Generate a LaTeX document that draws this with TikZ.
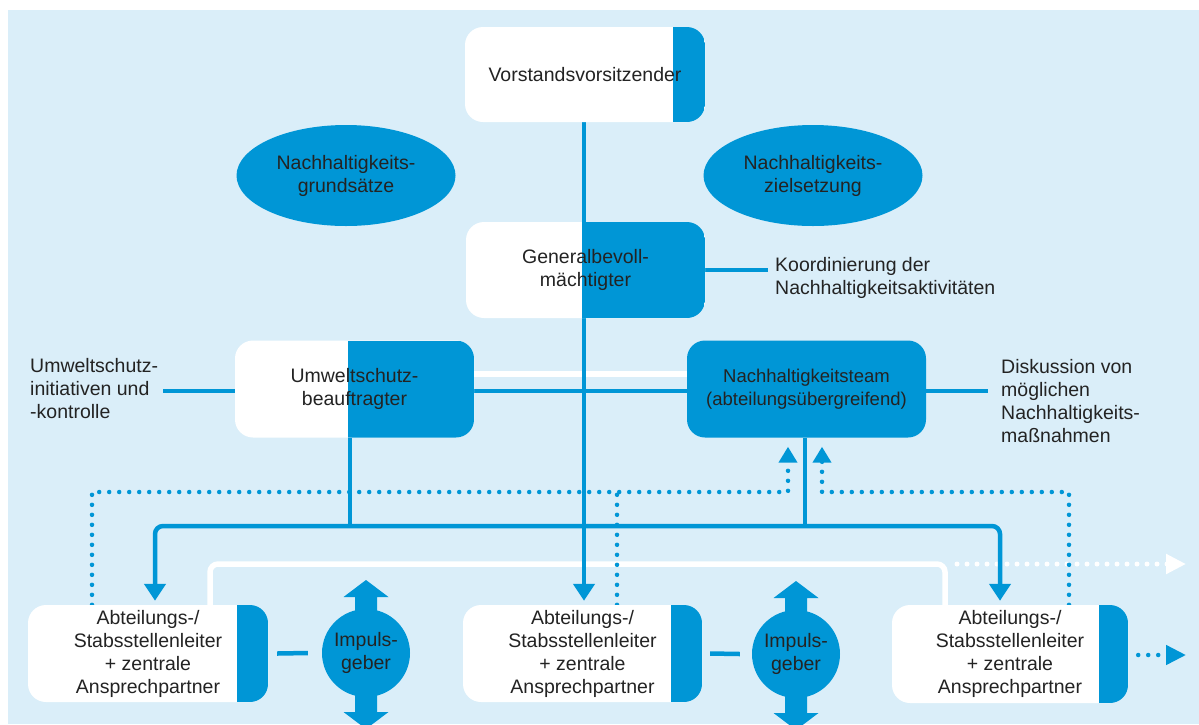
\documentclass[tikz,border=0pt]{standalone}
\usepackage{fontspec}
\setmainfont{Liberation Sans}
\usetikzlibrary{arrows.meta,shapes.geometric}
\definecolor{bg}{RGB}{218,238,249}
\definecolor{mb}{RGB}{0,150,214}
\definecolor{txt}{RGB}{35,35,35}
\pgfdeclarelayer{back}
\pgfdeclarelayer{lines}
\pgfsetlayers{back,lines,main}
\begin{document}
\begin{tikzpicture}[x=1pt,y=-1pt,
  font=\fontsize{19.5}{23}\selectfont, text=txt,
  box/.style={draw=none, fill=white, rounded corners=18pt, minimum width=#1,
    minimum height=96pt, inner sep=0pt, align=center},
  strip/.style={path picture={\fill[mb, sharp corners] ([xshift=-#1]path picture bounding box.south east)
    rectangle (path picture bounding box.north east);}},
  oval/.style={ellipse, fill=mb, minimum width=219pt, minimum height=101pt, inner sep=0pt, align=center},
  imp/.style={circle, fill=mb, minimum size=88pt, inner sep=0pt, align=center},
  lbl/.style={anchor=west, align=left, inner sep=0pt},
  ln/.style={draw=mb, line width=4.5pt},
  dotl/.style={draw=mb, line width=4.5pt, line cap=round, dash pattern=on 0pt off 10pt},
  wl/.style={draw=white, line width=5.5pt},
  wdot/.style={draw=white, line width=5pt, line cap=round, dash pattern=on 0pt off 10pt},
  tipd/.style={-{Triangle[width=21pt,length=17pt]}},
  tipu/.style={-{Triangle[width=18pt,length=16pt]}},
  tipr/.style={-{Triangle[width=19pt,length=20pt]}}
]
\useasboundingbox (0,0) rectangle (1199,724);
\clip (0,0) rectangle (1199,724);
\begin{pgfonlayer}{back}
\fill[white] (0,0) rectangle (1199,724);
\fill[bg] (8,10) rectangle (1199,724);
\end{pgfonlayer}

% coordinates for junctions and free ends
\coordinate (mx) at (584,0);
\coordinate (sL) at (155,526);
\coordinate (sR) at (1000,526);
\coordinate (uj) at (350,526);
\coordinate (nj) at (805,526);
\coordinate (dL) at (92,492);
\coordinate (dA) at (788,492);
\coordinate (dM) at (617,492);
\coordinate (dR) at (1069,492);
\coordinate (dB) at (822,492);
\coordinate (wL) at (210,564);
\coordinate (wR) at (945,564);
\coordinate (wE) at (1186,564);
\coordinate (rE) at (1186,655);
\coordinate (ulend) at (163,391);
\coordinate (drend) at (988,391);
\coordinate (kdend) at (768,270);

% boxes
\node[box=240pt, strip=32pt, minimum height=95pt] (vv) at (585,74.5) {Vorstandsvorsitzender};
\node[box=239pt, strip=123pt] (gb) at (585.5,270) {Generalbevoll-\\mächtigter};
\node[box=239pt, strip=126pt, minimum height=97pt] (uw) at (354.5,389) {Umweltschutz-\\beauftragter};
\node[box=239pt, fill=mb, minimum height=97pt, font=\fontsize{18.5}{23}\selectfont] (nt) at (806.5,389) {Nachhaltigkeitsteam\\(abteilungsübergreifend)};
\node[box=240pt, strip=31pt, minimum height=97pt] (ab1) at (148,653.5) {Abteilungs-/\\Stabsstellenleiter\\+ zentrale\\Ansprechpartner};
\node[box=239pt, strip=31pt, minimum height=97pt] (ab2) at (582.5,653.5) {Abteilungs-/\\Stabsstellenleiter\\+ zentrale\\Ansprechpartner};
\node[box=236pt, strip=29pt, minimum height=98pt] (ab3) at (1010,654) {Abteilungs-/\\Stabsstellenleiter\\+ zentrale\\Ansprechpartner};

% ellipses
\node[oval] (e1) at (346,175.5) {Nachhaltigkeits-\\grundsätze};
\node[oval] (e2) at (813,175.5) {Nachhaltigkeits-\\zielsetzung};

% Impulsgeber
\node[imp] (imp1) at (366,653) {Impuls-\\geber};
\node[imp] (imp2) at (796,654) {Impuls-\\geber};
\foreach \c in {imp1,imp2}{
  \begin{scope}[shift={(\c.center)}]
    \fill[mb] (-11,-40) -- (-11,-56) -- (-22.5,-56) -- (0,-73) -- (22.5,-56) -- (11,-56) -- (11,-40) -- cycle;
    \fill[mb] (-11,40) -- (-11,59) -- (-22.5,59) -- (0,76) -- (22.5,59) -- (11,59) -- (11,40) -- cycle;
  \end{scope}
}

% side labels
\node[lbl] (ul) at (30,389) {Umweltschutz-\\initiativen und\\-kontrolle};
\node[lbl] (kd) at (775,278) {Koordinierung der\\Nachhaltigkeitsaktivitäten};
\node[lbl] (dk) at (1001,401) {Diskussion von\\möglichen\\Nachhaltigkeits-\\maßnahmen};

\begin{pgfonlayer}{lines}
% white lines (lowest)
\draw[wl] ([yshift=15pt]uw.east) -- ([yshift=15pt]nt.west);
\draw[wl, rounded corners=8pt] (ab1.north -| wL) -- (wL) -- (wR) -- (ab3.north -| wR);
\draw[wdot, tipr] ([xshift=12pt]wR) -- (wE);

% dotted lines
\draw[dotl, tipu, shorten >=9pt] (ab1.north -| dL) -- (dL) -- (dA) -- (dA |- nt.south);
\draw[dotl] (ab2.north -| dM) -- (dM);
\draw[dotl, tipu, shorten >=9pt] (ab3.north -| dR) -- (dR) -- (dB) -- (dB |- nt.south);
\draw[dotl, tipr] ([xshift=10pt,yshift=-1pt]ab3.east) -- (rE);

% solid lines
\draw[ln] (uw.east |- ulend) -- (nt.west |- ulend);
\draw[ln] (uw.west |- ulend) -- (ulend);
\draw[ln] (nt.east |- drend) -- (drend);
\draw[ln] (gb.east) -- (kdend);
\draw[ln] (uw.south -| uj) -- (uj);
\draw[ln] (nt.south -| nj) -- (nj);
\draw[ln, rounded corners=8pt, {Triangle[width=21pt,length=17pt]}-{Triangle[width=21pt,length=17pt]}, shorten <=4pt, shorten >=4pt]
  (ab1.north -| sL) -- (sL) -- (sR) -- (ab3.north -| sR);
\draw[ln, tipd, shorten >=4pt] (vv.south -| mx) -- (ab2.north -| mx);
\draw[ln] ([xshift=9pt]ab1.east) -- ([xshift=-14pt]imp1.west);
\draw[ln] ([xshift=8pt]ab2.east) -- ([xshift=-12pt]imp2.west);
\end{pgfonlayer}
\end{tikzpicture}
\end{document}
